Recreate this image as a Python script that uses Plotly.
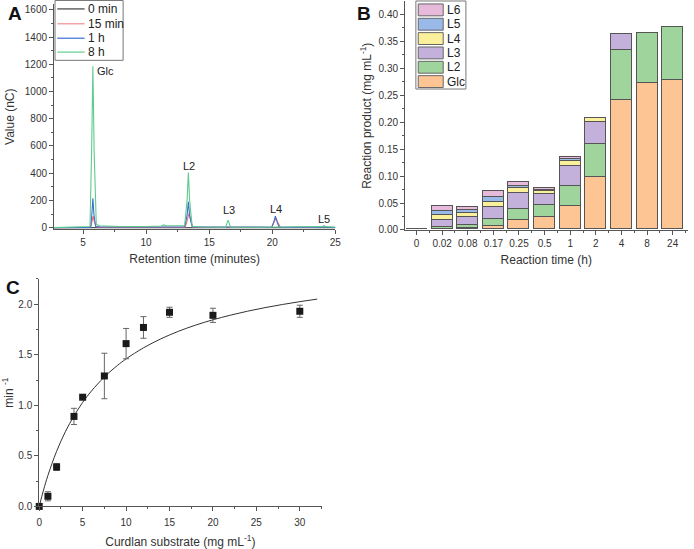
import plotly.graph_objects as go

# ---------------- Panel A data (chromatogram) ----------------
a_series = ["0 min", "15 min", "1 h", "8 h"]
a_t_0min = [2.7, 5.6, 5.8, 6.0, 13.2, 13.35, 13.5, 25.0]
a_v_0min = [0, 0, 2, 0, 0, 2, 0, 0]

a_t_15min = [2.7, 5.6, 5.7, 5.8, 5.9, 6.05, 6.4, 13.1, 13.25, 13.4, 13.55, 13.7, 19.95, 20.15, 20.3, 20.45, 20.65, 23.9, 24.1, 24.3, 25.0]
a_v_15min = [0, 1, 40, 85, 40, 6, 3, 3, 50, 105, 50, 3, 2, 35, 70, 35, 2, 1, 8, 1, 1]

a_t_1h = [2.7, 5.6, 5.7, 5.78, 5.86, 6.0, 6.4, 13.05, 13.25, 13.35, 13.45, 13.65, 18.9, 19.95, 20.12, 20.25, 20.38, 20.55, 22.3, 23.9, 24.1, 24.3, 25.0]
a_v_1h = [0, 1, 100, 215, 100, 8, 4, 4, 90, 190, 90, 4, 4, 2, 42, 85, 42, 2, 5, 2, 12, 2, 2]

a_t_8h = [2.7, 3.3, 5.55, 5.68, 5.78, 5.88, 6.05, 6.3, 8.0, 10.0, 11.2, 11.4, 11.6, 12.5, 13.05, 13.25, 13.35, 13.45, 13.65, 14.5, 16.3, 16.5, 16.7, 19.0, 20.3, 24.1, 25.0]
a_v_8h = [0, 2, 8, 560, 1185, 560, 25, 14, 8, 8, 12, 20, 14, 14, 15, 200, 405, 200, 10, 4, 3, 55, 3, 3, 5, 8, 3]

a_colors = ["#555555", "#ee6f7f", "#3d6ec9", "#5ccb8e"]
a_legend_colors = ["#666666", "#f5a3a8", "#5b8bd6", "#7fd8a6"]

# ---------------- Panel B data (stacked bars) ----------------
b_times = ["0", "0.02", "0.08", "0.17", "0.25", "0.5", "1", "2", "4", "8", "24"]
b_glc = [0, 0.0015, 0.003, 0.006, 0.0175, 0.0233, 0.043, 0.098, 0.2407, 0.271, 0.277]
b_l2 = [0, 0.004, 0.005, 0.0135, 0.0205, 0.0227, 0.0383, 0.060, 0.092, 0.0935, 0.098]
b_l3 = [0, 0.0125, 0.0148, 0.022, 0.029, 0.0205, 0.037, 0.041, 0.030, 0, 0]
b_l4 = [0, 0.0085, 0.0079, 0.0095, 0.0102, 0.004, 0.0085, 0.0075, 0, 0, 0]
b_l5 = [0, 0.0075, 0.0049, 0.0088, 0.0042, 0.0028, 0.0035, 0, 0, 0, 0]
b_l6 = [0, 0.0105, 0.0061, 0.011, 0.0076, 0.0033, 0.004, 0, 0, 0, 0]
b_names = ["Glc", "L2", "L3", "L4", "L5", "L6"]
b_colors = ["#fdc593", "#9fd49c", "#c3b1dc", "#faf09c", "#99b9e8", "#e7b9da"]

# ---------------- Panel C data (kinetics) ----------------
c_substrate = [0, 1, 2, 4, 5, 7.5, 10, 12, 15, 20, 30]
c_rate = [0.0, 0.10, 0.39, 0.89, 1.08, 1.29, 1.61, 1.77, 1.92, 1.89, 1.93]
c_err = [0.0, 0.045, 0.035, 0.08, 0.01, 0.225, 0.15, 0.107, 0.05, 0.07, 0.06]
c_fit_x = [0, 0.5, 1, 2, 3, 4, 5, 6, 7.5, 9, 10, 12, 14, 16, 18, 20, 22, 24, 26, 28, 30, 32]
c_fit_y = [0, 0.163, 0.306, 0.545, 0.737, 0.895, 1.028, 1.140, 1.280, 1.394, 1.459, 1.568,
           1.657, 1.731, 1.793, 1.846, 1.891, 1.931, 1.966, 1.997, 2.025, 2.050]

FONT = "Liberation Sans, Arial, sans-serif"
W, H = 694, 549


def px_x(p):
    return p / W


def px_y(p):
    return (H - p) / H


fig = go.Figure()

# Panel A traces
a_t = [a_t_0min, a_t_15min, a_t_1h, a_t_8h]
a_v = [a_v_0min, a_v_15min, a_v_1h, a_v_8h]
for name, t, v, col in zip(a_series, a_t, a_v, a_colors):
    fig.add_trace(go.Scatter(x=t, y=v, mode="lines", name=name,
                             line=dict(color=col, width=1.1),
                             xaxis="x", yaxis="y", showlegend=False))

# Panel B traces
b_x = list(range(len(b_times)))
for name, vals, col in zip(b_names, [b_glc, b_l2, b_l3, b_l4, b_l5, b_l6], b_colors):
    fig.add_trace(go.Bar(x=b_x, y=vals, name=name, width=0.82,
                         marker=dict(color=col, line=dict(color="#555555", width=1)),
                         xaxis="x2", yaxis="y2", showlegend=False))

# Panel C traces
fig.add_trace(go.Scatter(x=c_fit_x, y=c_fit_y, mode="lines", line=dict(color="#333333", width=1, shape="spline"),
                         showlegend=False, xaxis="x3", yaxis="y3", hoverinfo="skip"))
fig.add_trace(go.Scatter(x=c_substrate, y=c_rate, mode="markers",
                         marker=dict(symbol="square", color="#1a1a1a", size=7),
                         error_y=dict(type="data", array=c_err, color="#666666", thickness=1, width=3),
                         showlegend=False, xaxis="x3", yaxis="y3", cliponaxis=False))

axis_common = dict(showline=True, linecolor="#555555", linewidth=1, ticks="outside", ticklen=4,
                   tickcolor="#555555", showgrid=False, zeroline=False,
                   tickfont=dict(size=10, color="#333333", family=FONT),
                   title_font=dict(size=12, color="#333333", family=FONT))
minor_common = dict(ticks="outside", ticklen=2, tickcolor="#555555")

fig.update_layout(
    width=W, height=H, margin=dict(l=0, r=0, t=0, b=0),
    paper_bgcolor="white", plot_bgcolor="white",
    font=dict(family=FONT, size=11, color="#333333"),
    barmode="stack", bargap=0, showlegend=False,
    xaxis=dict(domain=[px_x(51.7), px_x(336.7)], range=[2.7, 25], anchor="y",
               tickvals=[5, 10, 15, 20, 25], minor=dict(dtick=2.5, **minor_common),
               title=dict(text="Retention time (minutes)", standoff=7), **axis_common),
    yaxis=dict(domain=[px_y(231.5), px_y(4.5)], range=[-10, 1640], anchor="x",
               dtick=200, minor=dict(dtick=100, **minor_common),
               title=dict(text="Value (nC)", standoff=7), **axis_common),
    xaxis2=dict(domain=[px_x(407.3), px_x(693.5)], range=[-0.45, 10.58], anchor="y2",
                tickvals=b_x, ticktext=b_times,
                minor=dict(dtick=0.5, tick0=0.5, **minor_common),
                title=dict(text="Reaction time (h)", standoff=7), **axis_common),
    yaxis2=dict(domain=[px_y(232.5), px_y(1.5)], range=[0, 0.424], anchor="x2",
                dtick=0.05, tickformat=".2f", minor=dict(dtick=0.025, **minor_common),
                title=dict(text="Reaction product (mg mL<sup>-1</sup>)", standoff=4), **axis_common),
    xaxis3=dict(domain=[px_x(36.7), px_x(322.7)], range=[0, 32.5], anchor="y3",
                dtick=5, minor=dict(dtick=2.5, **minor_common),
                ticklabelstandoff=3,
                title=dict(text="Curdlan substrate (mg mL<sup>-1</sup>)", standoff=12), **axis_common),
    yaxis3=dict(domain=[px_y(512), px_y(282)], range=[0, 2.25], anchor="x3",
                dtick=0.5, tickformat=".1f", minor=dict(dtick=0.25, **minor_common),
                title=dict(text="min <sup>-1</sup>", standoff=10), **axis_common),
)

shapes = []
annots = []

# ---- custom legend for panel A ----
shapes.append(dict(type="rect", xref="paper", yref="paper", x0=px_x(52.7), x1=px_x(121.7),
                   y0=px_y(61), y1=px_y(0.5), line=dict(color="#777777", width=1), fillcolor="white"))
a_rows = [9, 24, 38.7, 52.7]
for name, col, ry in zip(a_series, a_legend_colors, a_rows):
    shapes.append(dict(type="line", xref="paper", yref="paper", x0=px_x(55), x1=px_x(82.7),
                       y0=px_y(ry), y1=px_y(ry), line=dict(color=col, width=1.5)))
    annots.append(dict(text=name, x=px_x(84.5), y=px_y(ry), xref="paper", yref="paper",
                       xanchor="left", yanchor="middle", showarrow=False,
                       font=dict(size=12, color="#222222", family=FONT)))

# ---- custom legend for panel B ----
shapes.append(dict(type="rect", xref="paper", yref="paper", x0=px_x(418.3), x1=px_x(469),
                   y0=px_y(90), y1=px_y(1), line=dict(color="#777777", width=1), fillcolor="white"))
b_rows = [10, 24.5, 39, 53.5, 68, 82.5]
for name, col, ry in zip(b_names[::-1], b_colors[::-1], b_rows):
    shapes.append(dict(type="rect", xref="paper", yref="paper", x0=px_x(420.7), x1=px_x(446),
                       y0=px_y(ry + 6), y1=px_y(ry - 6), line=dict(color="#666666", width=1), fillcolor=col))
    annots.append(dict(text=name, x=px_x(448), y=px_y(ry), xref="paper", yref="paper",
                       xanchor="left", yanchor="middle", showarrow=False,
                       font=dict(size=12, color="#222222", family=FONT)))

letters = [("A", 3, 14), ("B", 357, 14), ("C", 1, 291)]
for txt, lx, ly in letters:
    annots.append(dict(text=f"<b>{txt}</b>", x=px_x(lx), y=px_y(ly), xref="paper", yref="paper",
                       xanchor="left", yanchor="middle", showarrow=False,
                       font=dict(size=19, color="#111111", family=FONT)))

peak_labels = [("Glc", 6.8, 1152), ("L2", 13.4, 455), ("L3", 16.55, 128), ("L4", 20.28, 135), ("L5", 24.1, 65)]
for txt, lx, ly in peak_labels:
    annots.append(dict(text=txt, x=lx, y=ly, xref="x", yref="y", showarrow=False,
                       font=dict(size=11, color="#222222", family=FONT)))

fig.update_layout(shapes=shapes, annotations=annots)

fig.write_html("out.html", config={"displayModeBar": False},
               post_script="document.body.style.margin='0';document.body.style.overflow='hidden';")
